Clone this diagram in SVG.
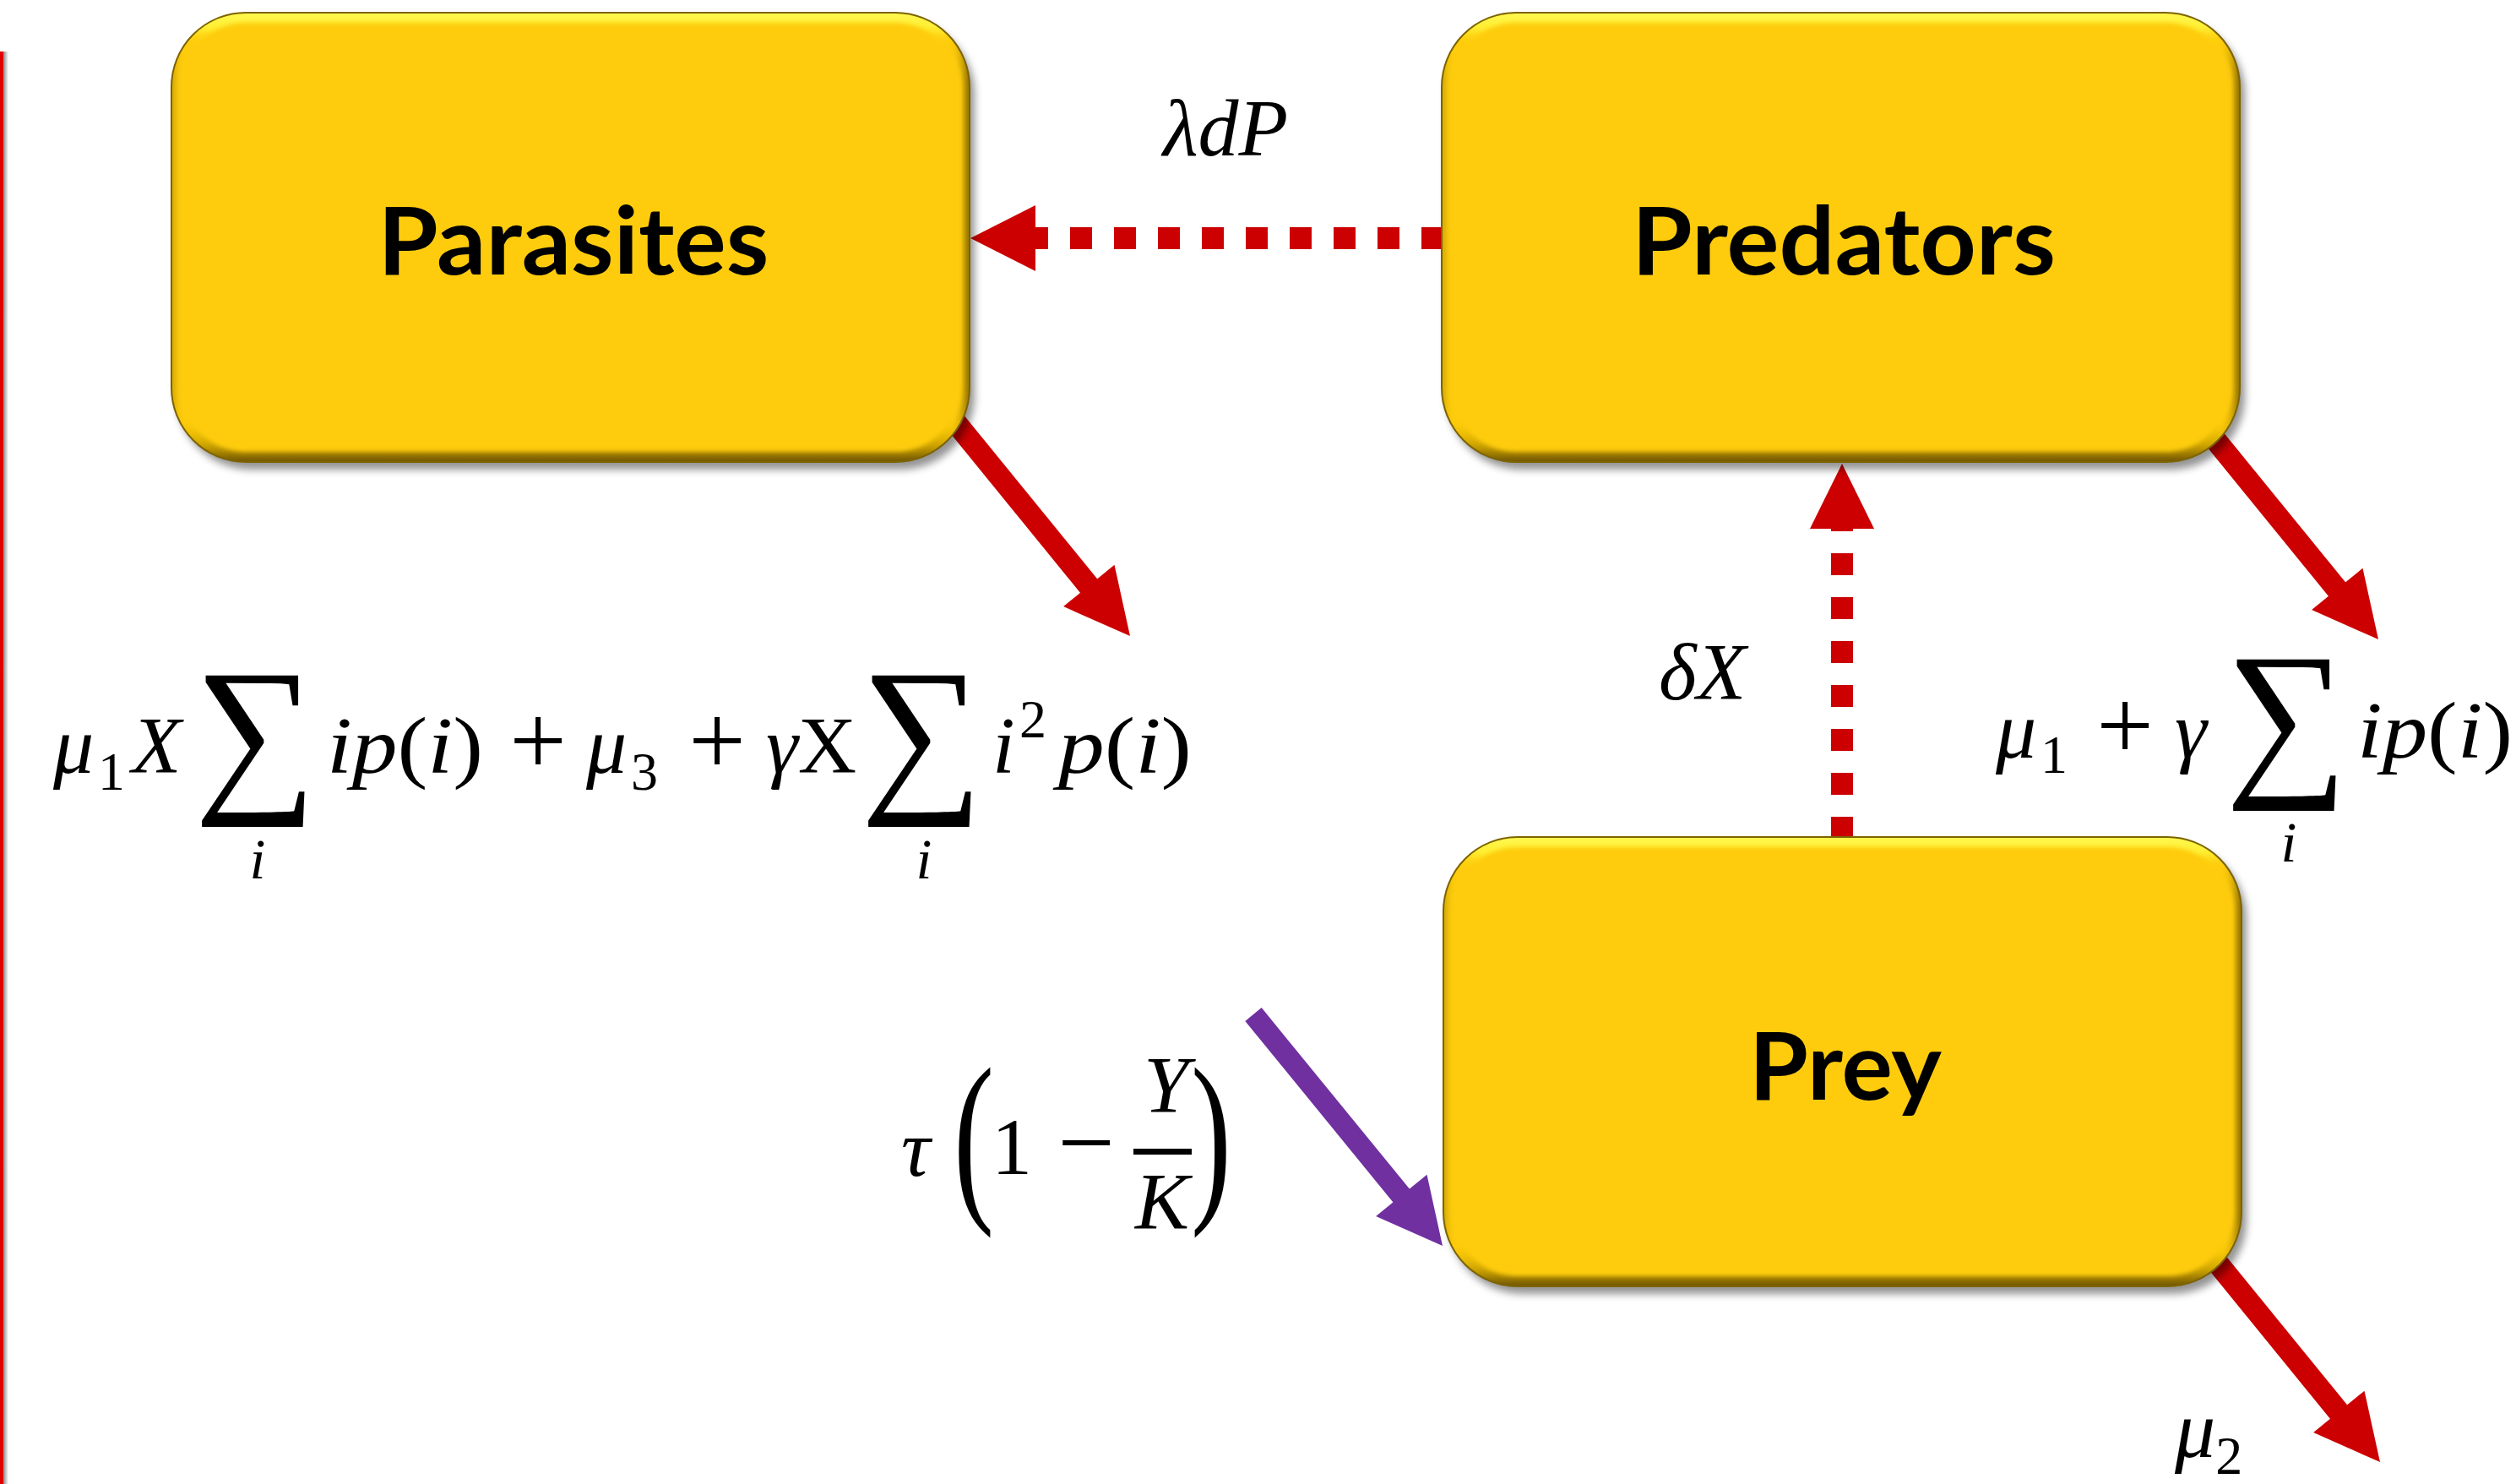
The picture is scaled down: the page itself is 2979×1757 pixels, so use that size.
<svg xmlns="http://www.w3.org/2000/svg" width="2979" height="1757" viewBox="0 0 2979 1757">
  <defs>
    <style>
      .node-label { font-family: Lato, "Liberation Sans", sans-serif; font-weight: 700; font-size: 112px; fill: #000; text-anchor: middle; }
      .math { font-family: "Liberation Serif", "DejaVu Serif", serif; font-style: italic; font-size: 96px; fill: #000; }
      .up { font-style: normal; }
      .sub { font-style: normal; font-size: 64px; }
      .under { font-size: 68px; text-anchor: middle; }
      .op { font-style: normal; text-anchor: middle; font-size: 120px; }
      .big-paren { font-style: normal; font-size: 222px; }
      .sum { font-family: "Liberation Serif", "DejaVu Serif", serif; font-style: normal; font-size: 197px; fill: #000; }
      .box-fill { fill: #FECC09; }
      .box-rim { fill: none; stroke: url(#rimV); stroke-width: 24; }
      .box-rim-h { fill: none; stroke: url(#rimH); stroke-width: 16; }
      .box-edge { fill: none; stroke: #7d6300; stroke-width: 2; }
      .flow { stroke: #CC0000; stroke-width: 26; fill: none; }
      .dotted { stroke-dasharray: 26 26; }
      .head { fill: #CC0000; }
      .inflow { stroke: #7030A0; stroke-width: 25; fill: none; }
      .head-in { fill: #7030A0; }
    </style>

    <!-- rounded node body shared by all three compartments -->
    <rect id="boxBody" x="0" y="0" width="945" height="532" rx="88" ry="88"/>
    <clipPath id="boxClip">
      <use href="#boxBody"/>
    </clipPath>

    <!-- bevel: bright rim at the top, darker rim at the bottom -->
    <linearGradient id="rimV" x1="0" y1="0" x2="0" y2="1">
      <stop offset="0" stop-color="#FFF850"/>
      <stop offset="0.035" stop-color="#FFEE30"/>
      <stop offset="0.07" stop-color="#FECC09" stop-opacity="0"/>
      <stop offset="0.9" stop-color="#FECC09" stop-opacity="0"/>
      <stop offset="0.965" stop-color="#C9A000"/>
      <stop offset="1" stop-color="#6d5300"/>
    </linearGradient>
    <linearGradient id="rimH" x1="0" y1="0" x2="1" y2="0">
      <stop offset="0" stop-color="#9a7b00" stop-opacity="0.5"/>
      <stop offset="0.015" stop-color="#FECC09" stop-opacity="0"/>
      <stop offset="0.975" stop-color="#FECC09" stop-opacity="0"/>
      <stop offset="1" stop-color="#6d5300" stop-opacity="0.8"/>
    </linearGradient>

    <filter id="dropShadow" x="-5%" y="-5%" width="115%" height="120%">
      <feGaussianBlur in="SourceAlpha" stdDeviation="5"/>
      <feOffset dx="6" dy="9" result="blur"/>
      <feFlood flood-color="#000" flood-opacity="0.42"/>
      <feComposite in2="blur" operator="in"/>
      <feMerge>
        <feMergeNode/>
        <feMergeNode in="SourceGraphic"/>
      </feMerge>
    </filter>
    <filter id="rimSoft" x="-5%" y="-5%" width="110%" height="110%">
      <feGaussianBlur stdDeviation="2.5"/>
    </filter>

    <linearGradient id="barShade" x1="0" y1="0" x2="1" y2="0">
      <stop offset="0" stop-color="#8c8c8c"/>
      <stop offset="1" stop-color="#ffffff"/>
    </linearGradient>
  </defs>

  <rect width="2979" height="1757" fill="#ffffff"/>

  <!-- thin red rule along the left margin -->
  <g id="margin-rule">
    <rect x="4" y="61" width="6" height="1696" fill="url(#barShade)"/>
    <rect x="0" y="61" width="4" height="1696" fill="#E00000"/>
  </g>

  <!-- flows between compartments -->
  <g id="connectors">
    <!-- predation on parasites: Predators -> Parasites -->
    <line class="flow dotted" x1="1709" y1="282" x2="1226" y2="282"/>
    <polygon class="head" points="1149,282 1226,243 1226,321"/>

    <!-- predation on prey: Prey -> Predators -->
    <line class="flow dotted" x1="2181" y1="993" x2="2181" y2="626"/>
    <polygon class="head" points="2181,549 2143,626 2219,626"/>

    <!-- parasite losses -->
    <line class="flow" x1="1107" y1="470" x2="1291" y2="696"/>
    <polygon class="head" points="1338,753 1319.5,668.7 1259.1,718.1"/>

    <!-- predator losses -->
    <line class="flow" x1="2585" y1="474" x2="2769" y2="700"/>
    <polygon class="head" points="2816,757 2797.5,672.7 2737.1,722.1"/>

    <!-- prey losses -->
    <line class="flow" x1="2587" y1="1448" x2="2771" y2="1674"/>
    <polygon class="head" points="2818,1731 2799.5,1646.7 2739.1,1696.1"/>

    <!-- prey growth -->
    <line class="inflow" x1="1484" y1="1201" x2="1662" y2="1419"/>
    <polygon class="head-in" points="1708,1475 1689.5,1390.7 1629.1,1440.1"/>
  </g>

  <!-- compartments -->
  <g id="node-parasites" transform="translate(203,15)">
    <use href="#boxBody" class="box-fill" filter="url(#dropShadow)"/>
    <g clip-path="url(#boxClip)">
      <use href="#boxBody" class="box-rim" filter="url(#rimSoft)"/>
      <use href="#boxBody" class="box-rim-h" filter="url(#rimSoft)"/>
    </g>
    <use href="#boxBody" class="box-edge"/>
    <text class="node-label" x="476" y="310" textLength="463" lengthAdjust="spacingAndGlyphs">Parasites</text>
  </g>

  <g id="node-predators" transform="translate(1707,15)">
    <use href="#boxBody" class="box-fill" filter="url(#dropShadow)"/>
    <g clip-path="url(#boxClip)">
      <use href="#boxBody" class="box-rim" filter="url(#rimSoft)"/>
      <use href="#boxBody" class="box-rim-h" filter="url(#rimSoft)"/>
    </g>
    <use href="#boxBody" class="box-edge"/>
    <text class="node-label" x="476" y="310" textLength="502" lengthAdjust="spacingAndGlyphs">Predators</text>
  </g>

  <g id="node-prey" transform="translate(1709,991)">
    <use href="#boxBody" class="box-fill" filter="url(#dropShadow)"/>
    <g clip-path="url(#boxClip)">
      <use href="#boxBody" class="box-rim" filter="url(#rimSoft)"/>
      <use href="#boxBody" class="box-rim-h" filter="url(#rimSoft)"/>
    </g>
    <use href="#boxBody" class="box-edge"/>
    <text class="node-label" x="476" y="311" textLength="228" lengthAdjust="spacingAndGlyphs">Prey</text>
  </g>

  <!-- rate labels -->
  <g id="labels">
    <text class="math" x="1377" y="184">λdP</text>

    <text class="math" x="1964" y="828">δX</text>

    <!-- parasite loss rate -->
    <g id="rate-parasites">
      <text class="math" x="63" y="915">μ</text>
      <text class="math sub" x="116" y="935">1</text>
      <text class="math" x="156" y="915">X</text>
      <text class="sum" transform="translate(230,935) scale(1.03,1.05)">∑</text>
      <text class="math under" x="305" y="1040">i</text>
      <text class="math" x="387" y="915" textLength="185" lengthAdjust="spacingAndGlyphs">ip<tspan class="up">(</tspan>i<tspan class="up">)</tspan></text>
      <text class="math op" x="637" y="917">+</text>
      <text class="math" x="694" y="915">μ</text>
      <text class="math sub" x="747" y="935">3</text>
      <text class="math op" x="849" y="917">+</text>
      <text class="math" x="907" y="915">γ<tspan class="up">X</tspan></text>
      <text class="sum" transform="translate(1019,935) scale(1.03,1.05)">∑</text>
      <text class="math under" x="1094" y="1040">i</text>
      <text class="math" x="1175" y="915">i</text>
      <text class="math sub" x="1207" y="873">2</text>
      <text class="math" x="1253" y="915" textLength="158" lengthAdjust="spacingAndGlyphs">p<tspan class="up">(</tspan>i<tspan class="up">)</tspan></text>
    </g>

    <!-- predator loss rate -->
    <g id="rate-predators">
      <text class="math" x="2363" y="897">μ</text>
      <text class="math sub" x="2416" y="915">1</text>
      <text class="math op" x="2516" y="899">+</text>
      <text class="math" x="2575" y="897">γ</text>
      <text class="sum" transform="translate(2635,916) scale(1.03,1.05)">∑</text>
      <text class="math under" x="2710" y="1020">i</text>
      <text class="math" x="2791" y="897" textLength="184" lengthAdjust="spacingAndGlyphs">ip<tspan class="up">(</tspan>i<tspan class="up">)</tspan></text>
    </g>

    <!-- prey growth rate -->
    <g id="rate-growth">
      <text class="math" x="1067" y="1392">τ</text>
      <text class="math big-paren" x="1129" y="1418" textLength="48" lengthAdjust="spacingAndGlyphs">(</text>
      <text class="math up" x="1174" y="1390">1</text>
      <text class="math op" x="1286" y="1393">−</text>
      <text class="math" x="1354" y="1317">Y</text>
      <rect x="1342" y="1360" width="69" height="7" fill="#000"/>
      <text class="math" x="1344" y="1455">K</text>
      <text class="math big-paren" x="1410" y="1418" textLength="48" lengthAdjust="spacingAndGlyphs">)</text>
    </g>

    <text class="math" x="2575" y="1725">μ<tspan class="sub" dy="20">2</tspan></text>
  </g>
</svg>
